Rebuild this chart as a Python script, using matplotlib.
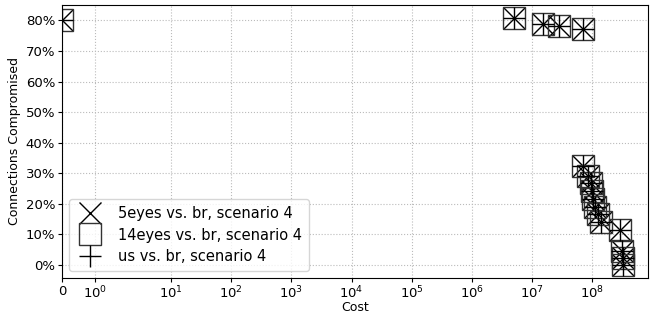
import matplotlib
matplotlib.use("Agg")
import matplotlib.pyplot as plt
from matplotlib.ticker import PercentFormatter, NullLocator, FixedLocator

# Data (cost, fraction of connections compromised)
cost_5eyes = [0, 5.07e6, 1.52e7, 2.79e7, 7.08e7,
              7.08e7, 8.4e7, 9.6e7, 1.0e8, 1.04e8, 1.12e8, 1.26e8, 1.41e8,
              2.82e8, 3.1e8, 3.16e8, 3.16e8]
comp_5eyes = [0.801, 0.808, 0.788, 0.781, 0.770,
              0.324, 0.291, 0.268, 0.242, 0.216, 0.190, 0.167, 0.141,
              0.114, 0.046, 0.023, 0.0]
cost_14eyes = list(cost_5eyes)
comp_14eyes = list(comp_5eyes)
cost_us = list(cost_5eyes)
comp_us = list(comp_5eyes)

labels = ["5eyes vs. br, scenario 4", "14eyes vs. br, scenario 4", "us vs. br, scenario 4"]
xticks = [0, 1, 10, 100, 1e3, 1e4, 1e5, 1e6, 1e7, 1e8]
xticklabels = ["0", r"$10^{0}$", r"$10^{1}$", r"$10^{2}$", r"$10^{3}$", r"$10^{4}$",
               r"$10^{5}$", r"$10^{6}$", r"$10^{7}$", r"$10^{8}$"]

fig = plt.figure(figsize=(6.53, 3.13), dpi=100)
ax = fig.add_axes([0.095, 0.112, 0.897, 0.872])

ms = 16
ax.plot(cost_5eyes, comp_5eyes, linestyle="none", marker="x", markersize=ms,
        color="black", markeredgewidth=1.0, label=labels[0])
ax.plot(cost_14eyes, comp_14eyes, linestyle="none", marker="s", markersize=ms,
        markerfacecolor="none", markeredgecolor="#333333", markeredgewidth=1.0, label=labels[1])
ax.plot(cost_us, comp_us, linestyle="none", marker="+", markersize=ms,
        color="black", markeredgewidth=1.0, label=labels[2])

ax.set_xscale("symlog")
ax.xaxis.set_major_locator(FixedLocator(xticks))
ax.set_xticklabels(xticklabels)
ax.xaxis.set_minor_locator(NullLocator())
ax.set_xlim(0, 8.3e8)
ax.set_ylim(-0.042, 0.85)
ax.yaxis.set_major_formatter(PercentFormatter(xmax=1.0, decimals=0))
ax.set_yticks([0, 0.1, 0.2, 0.3, 0.4, 0.5, 0.6, 0.7, 0.8])

ax.grid(True, linestyle=":", color="#bbbbbb", linewidth=0.8)
ax.tick_params(labelsize=9.5, length=3, pad=2)
ax.set_xlabel("Cost", fontsize=9, labelpad=0)
ax.set_ylabel("Connections Compromised", fontsize=9, labelpad=3)

ax.legend(loc="lower left", fontsize=10.5, handletextpad=0.9, borderpad=0.45,
          labelspacing=0.45)

fig.savefig("out.png", dpi=100)
